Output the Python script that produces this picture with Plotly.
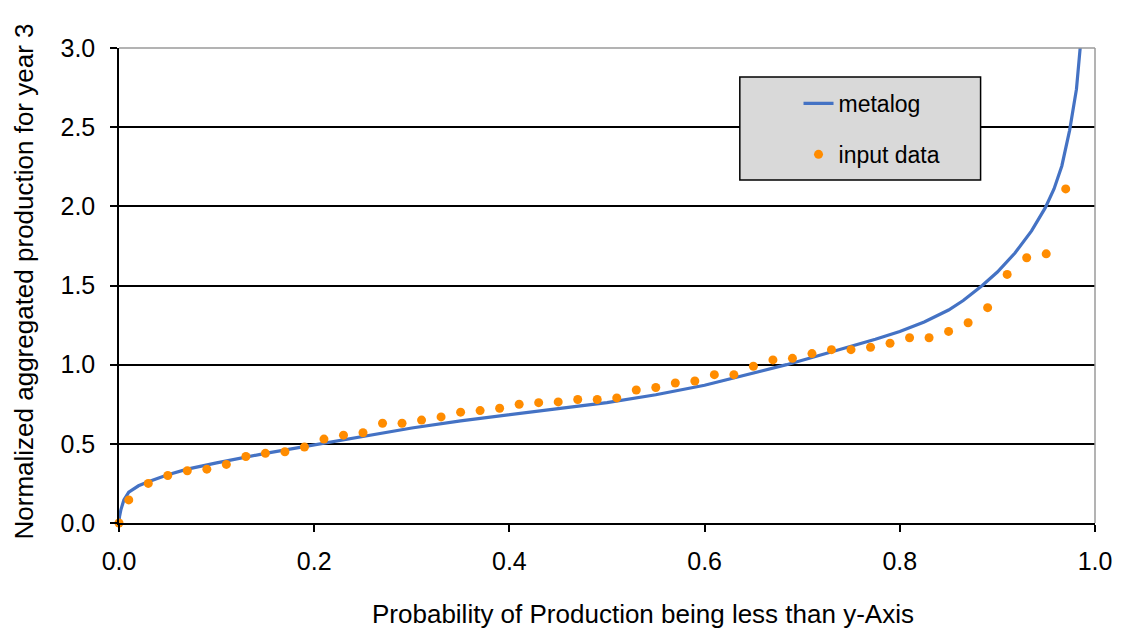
import plotly.graph_objects as go

# input data (probability, normalized production)
data_p = [0.0, 0.01, 0.03, 0.05, 0.07, 0.09, 0.11, 0.13, 0.15, 0.17, 0.19,
          0.21, 0.23, 0.25, 0.27, 0.29, 0.31, 0.33, 0.35, 0.37, 0.39,
          0.41, 0.43, 0.45, 0.47, 0.49, 0.51, 0.53, 0.55, 0.57, 0.59,
          0.61, 0.63, 0.65, 0.67, 0.69, 0.71, 0.73, 0.75, 0.77, 0.79,
          0.81, 0.83, 0.85, 0.87, 0.89, 0.91, 0.93, 0.95, 0.97]
data_y = [0.0, 0.146, 0.25, 0.30, 0.33, 0.34, 0.37, 0.42, 0.44, 0.45, 0.48,
          0.53, 0.555, 0.57, 0.63, 0.63, 0.65, 0.67, 0.70, 0.71, 0.725,
          0.75, 0.76, 0.765, 0.78, 0.78, 0.79, 0.84, 0.856, 0.884, 0.897,
          0.937, 0.937, 0.99, 1.03, 1.04, 1.07, 1.095, 1.095, 1.11, 1.135,
          1.17, 1.17, 1.21, 1.265, 1.36, 1.57, 1.675, 1.70, 2.11]

# metalog curve
metalog_p = [0.0, 0.0005, 0.002, 0.005, 0.01, 0.02, 0.03, 0.05, 0.07, 0.1,
             0.15, 0.2, 0.25, 0.3, 0.35, 0.4, 0.45, 0.5, 0.55, 0.6,
             0.65, 0.684, 0.71, 0.75, 0.775, 0.8, 0.825, 0.85, 0.865, 0.8845,
             0.9, 0.918, 0.935, 0.949, 0.958, 0.966, 0.974, 0.981, 0.985, 0.987]
metalog_y = [0.0, 0.04, 0.085, 0.145, 0.195, 0.235, 0.26, 0.305, 0.34, 0.38,
             0.44, 0.495, 0.55, 0.60, 0.645, 0.685, 0.722, 0.76, 0.81, 0.87,
             0.945, 1.0, 1.045, 1.115, 1.16, 1.21, 1.27, 1.345, 1.405, 1.5,
             1.585, 1.705, 1.845, 1.99, 2.11, 2.255, 2.48, 2.74, 3.0, 3.15]

x_ticks = [0.0, 0.2, 0.4, 0.6, 0.8, 1.0]
y_ticks = [0.0, 0.5, 1.0, 1.5, 2.0, 2.5, 3.0]

FONT = "Liberation Sans, Arial, sans-serif"

PW = 981  # plot width in px
PH = 475  # plot height in px

fig = go.Figure()
fig.add_trace(go.Scatter(x=metalog_p, y=metalog_y, mode="lines", name="metalog",
                         legendgroup="a",
                         line=dict(color="#4472C4", width=3.2), cliponaxis=True))
fig.add_trace(go.Scatter(x=data_p, y=data_y, mode="markers", name="input data",
                         legendgroup="b",
                         marker=dict(color="#FF8C00", size=9), cliponaxis=False))

fig.update_layout(
    width=1124, height=630,
    margin=dict(l=119, r=1124 - 119 - PW, t=48, b=630 - 48 - PH),
    paper_bgcolor="white", plot_bgcolor="white",
    font=dict(family=FONT, size=25, color="black"),
    showlegend=True,
    legend=dict(x=(802 - 119) / PW, y=(523 - 82) / PH, xanchor="left", yanchor="top",
                bgcolor="rgba(0,0,0,0)", borderwidth=0,
                font=dict(family=FONT, size=23, color="black"),
                traceorder="grouped", tracegroupgap=18),
    xaxis=dict(range=[0, 1], tickvals=x_ticks, tickformat=".1f",
               showgrid=False, zeroline=False,
               showline=True, linecolor="black", linewidth=1.5,
               ticks="outside", ticklen=7, tickcolor="black", tickwidth=1.5,
               ticklabelstandoff=8),
    yaxis=dict(range=[0, 3], tickvals=y_ticks, tickformat=".1f",
               showgrid=True, gridcolor="black", gridwidth=1.5, zeroline=False,
               showline=True, linecolor="black", linewidth=1.5,
               ticks="outside", ticklen=7, tickcolor="black", tickwidth=1.5,
               ticklabelstandoff=10),
    shapes=[
        dict(type="line", xref="paper", yref="paper", x0=0, x1=1, y0=1, y1=1,
             line=dict(color="#9a9a9a", width=1.5), layer="above"),
        dict(type="line", xref="paper", yref="paper", x0=1, x1=1, y0=0, y1=1,
             line=dict(color="#9a9a9a", width=1.5), layer="above"),
        dict(type="rect", xref="paper", yref="paper",
             x0=(743 - 119) / PW, x1=(985 - 119) / PW,
             y0=(523 - 180) / PH, y1=(523 - 77) / PH,
             fillcolor="#D9D9D9", line=dict(color="black", width=1.5), layer="above"),
    ],
    annotations=[
        dict(text="Probability of Production being less than y-Axis",
             xref="paper", yref="paper", x=(646 - 119) / PW, y=-(614 - 523) / PH,
             xanchor="center", yanchor="middle", showarrow=False,
             font=dict(family=FONT, size=26)),
        dict(text="Normalized aggregated production for year 3",
             xref="paper", yref="paper", x=(24 - 119) / PW, y=(523 - 281) / PH,
             xanchor="center", yanchor="middle", textangle=-90, showarrow=False,
             font=dict(family=FONT, size=26)),
    ],
)

fig.write_html("out.html",
               config={"displayModeBar": False},
               post_script="document.body.style.margin='0';document.body.style.overflow='hidden';")
